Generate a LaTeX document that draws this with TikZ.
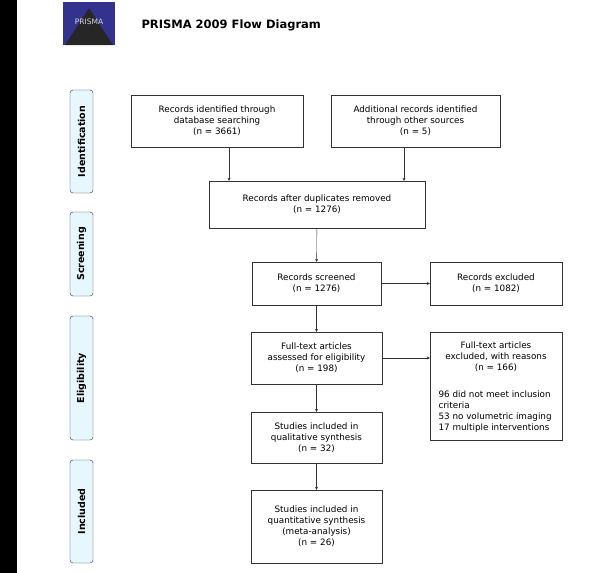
\documentclass[tikz,border=0pt]{standalone}
\usepackage{fontspec}
\setmainfont{DejaVu Sans}
\usetikzlibrary{arrows.meta, positioning}
\tikzset{
	box/.style={draw=black!80, fill=white, thin, align=center, font=\fontsize{8.8}{11}\selectfont, inner sep=2pt},
	phase/.style={draw=black!80, fill=cyan!10, rounded corners=3pt, rotate=90, font=\bfseries\fontsize{9.5}{11}\selectfont, inner sep=2pt},
	flow/.style={-{Stealth[length=3pt, width=3pt]}, black!80, thin}
}
\begin{document}
\begin{tikzpicture}[x=1pt, y=-1pt]
			\useasboundingbox (0,0) rectangle (600,573);
			\fill[black] (0,0) rectangle (17,573);
			% logo
			\fill[blue!45!black!80] (63,2) rectangle (115,45);
			\fill[black!85] (89,8) -- (113,45) -- (65,45) -- cycle;
			\node[text=black!15, font=\fontsize{7.5}{8}\selectfont] (logo) at (89,22) {PRISMA};
			\node[anchor=west, font=\bfseries\fontsize{11.5}{13}\selectfont] (title) at (138,25) {PRISMA 2009 Flow Diagram};
			% phases
			\node[phase, minimum width=103pt, minimum height=23pt] (ident) at (81.5,141.5) {Identification};
			\node[phase, minimum width=84pt, minimum height=23pt] (screen) at (81.5,254) {Screening};
			\node[phase, minimum width=124pt, minimum height=23pt] (elig) at (81.5,378) {Eligibility};
			\node[phase, minimum width=103pt, minimum height=23pt] (incl) at (81.5,511.5) {Included};
			% boxes
			\node[box, minimum width=172pt, minimum height=52pt] (dbrec) at (217,121) {Records identified through\\database searching\\(n = 3661)};
			\node[box, minimum width=169pt, minimum height=52pt] (otherrec) at (415.5,121) {Additional records identified\\through other sources\\(n = 5)};
			\node[box, minimum width=216pt, minimum height=47pt] (dedup) at (317,204.5) {Records after duplicates removed\\(n = 1276)};
			\node[box, minimum width=129pt, minimum height=43pt] (screened) at (316.5,283.5) {Records screened\\(n = 1276)};
			\node[box, minimum width=132pt, minimum height=43pt] (excluded) at (496,283.5) {Records excluded\\(n = 1082)};
			\node[box, minimum width=131pt, minimum height=52pt] (fulltext) at (316.5,358) {Full-text articles\\assessed for eligibility\\(n = 198)};
			\node[box, minimum width=132pt, minimum height=108pt, anchor=north] (ftexcl) at (496,332) {};
			\node[font=\fontsize{8.8}{11}\selectfont, align=center, below=6pt of ftexcl.north] (ftexcltxt) {Full-text articles\\excluded, with reasons\\(n = 166)};
			\node[font=\fontsize{8.8}{11}\selectfont, align=left, anchor=north west] (reasons) at (435,387) {96 did not meet inclusion\\criteria\\53 no volumetric imaging\\17 multiple interventions};
			\node[box, minimum width=131pt, minimum height=51pt] (qual) at (316.5,437.5) {Studies included in\\qualitative synthesis\\(n = 32)};
			\node[box, minimum width=131pt, minimum height=73pt] (quant) at (316.5,526.5) {Studies included in\\quantitative synthesis\\(meta-analysis)\\(n = 26)};
			% connectors
			\draw[flow] (dbrec.south -| 229,0) -- (dedup.north -| 229,0);
			\draw[flow] (otherrec.south -| 404,0) -- (dedup.north -| 404,0);
			\draw[flow] (dedup) -- (screened);
			\draw[flow] (screened) -- (excluded);
			\draw[flow] (screened) -- (fulltext);
			\draw[flow] (fulltext) -- (fulltext -| ftexcl.west);
			\draw[flow] (fulltext) -- (qual);
			\draw[flow] (qual) -- (quant);
\end{tikzpicture}
\end{document}
